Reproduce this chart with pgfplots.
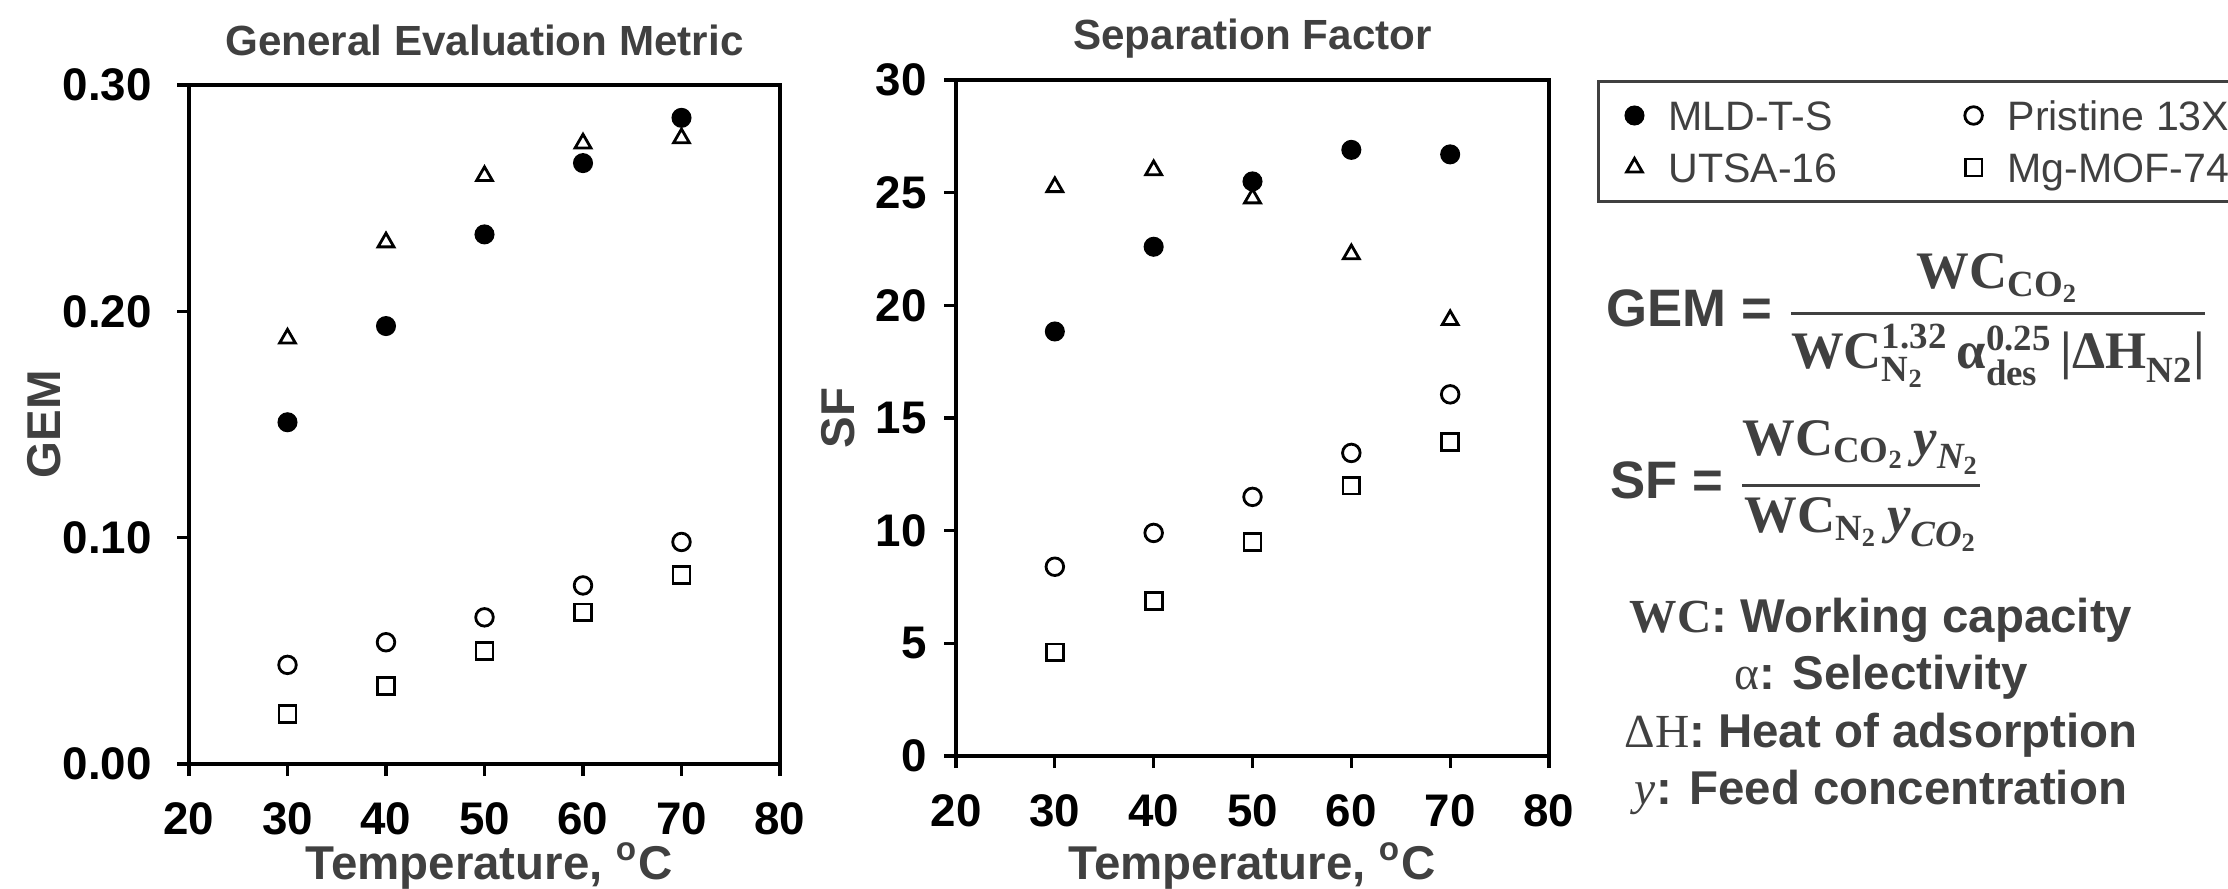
\documentclass[border=0pt]{standalone}
\usepackage{amsmath}
\usepackage[no-math]{fontspec}
\setmainfont{Liberation Sans}
\newfontfamily\cam{Liberation Serif}
\usepackage{pgfplots}
\pgfplotsset{compat=1.18}
\definecolor{txt}{HTML}{404040}
\newcommand{\mb}[1]{\text{\cam\bfseries #1}}
\newcommand{\mbi}[1]{\text{\cam\bfseries\itshape #1}}

\pgfplotsset{
  panel/.style={
    scale only axis, anchor=south west, clip=false,
    xmin=20, xmax=80, xtick={20,30,...,80},
    tick align=outside, tick pos=left, major tick length=0.12cm,
    axis line style={line width=0.9pt, black},
    tick style={line width=0.9pt, black},
    ticklabel style={font=\fontsize{13}{15}\selectfont\bfseries, text=black},
    /pgf/number format/assume math mode=true,
    xticklabel style={yshift=-0.145cm},
  },
  mk/.style={only marks, color=black,
    legend image code/.code={\path[draw=none] (0cm,-0.15cm) rectangle (0.70cm,0.15cm);
      \draw[##1] plot coordinates {(0.36cm,0cm)};}},
  mld/.style={mk, mark=*, mark size=2.6pt, mark options={fill=black, line width=0.5pt}},
  utsa/.style={mk, mark=triangle, mark size=2.6pt, mark options={fill=white, line width=0.8pt}},
  pris/.style={mk, mark=o, mark size=2.5pt, mark options={line width=0.8pt}},
  mof/.style={mk, mark=square, mark size=2.4pt, mark options={line width=0.8pt}},
}

\begin{document}
\begin{tikzpicture}
\path[use as bounding box, clip] (0,0) rectangle (22.28,8.88);

% GEM panel
\begin{axis}[panel, at={(1.89cm,1.24cm)}, width=5.91cm, height=6.79cm,
  ymin=0, ymax=0.3, ytick={0,0.1,0.2,0.3},
  yticklabel style={xshift=-0.13cm, /pgf/number format/fixed,
    /pgf/number format/fixed zerofill, /pgf/number format/precision=2}]
\addplot[mld]  coordinates {(30,0.151)(40,0.1935)(50,0.234)(60,0.2655)(70,0.2855)};
\addplot[utsa] coordinates {(30,0.188)(40,0.2305)(50,0.2598)(60,0.2742)(70,0.2765)};
\addplot[pris] coordinates {(30,0.0438)(40,0.0538)(50,0.0648)(60,0.0789)(70,0.0981)};
\addplot[mof]  coordinates {(30,0.0222)(40,0.0344)(50,0.0500)(60,0.0670)(70,0.0834)};
\end{axis}

% SF panel
\begin{axis}[panel, at={(9.56cm,1.32cm)}, width=5.93cm, height=6.76cm,
  ymin=0, ymax=30, ytick={0,5,...,30},
  yticklabel style={xshift=-0.05cm},
  legend columns=2,
  legend style={at={(axis description cs:1,1)}, anchor=north west, xshift=0.48cm,
    draw=txt, line width=0.85pt, inner xsep=0pt, inner ysep=0.19cm,
    font=\fontsize{11.7}{14}\selectfont, text=txt,
    nodes={inner sep=0pt, text height=0.30cm, text depth=0cm},
    cells={anchor=west}, /tikz/row sep=0.22cm,
    /tikz/every even column/.append style={column sep=1.0cm}}]
\addplot[mld]  coordinates {(30,18.84)(40,22.6)(50,25.5)(60,26.9)(70,26.7)};
\addlegendentry{MLD-T-S}
\addplot[pris] coordinates {(30,8.4)(40,9.9)(50,11.5)(60,13.45)(70,16.05)};
\addlegendentry{Pristine 13X}
\addplot[utsa] coordinates {(30,25.25)(40,26.0)(50,24.75)(60,22.27)(70,19.35)};
\addlegendentry{UTSA-16}
\addplot[mof]  coordinates {(30,4.6)(40,6.88)(50,9.5)(60,12.0)(70,13.95)};
\addlegendentry{Mg-MOF-74}
\end{axis}

% titles and axis labels
\begin{scope}[every node/.style={text=txt, inner sep=0pt}]
\node[anchor=base, font=\fontsize{12}{14}\selectfont\bfseries] at (4.845,8.33) {General Evaluation Metric};
\node[anchor=base, font=\fontsize{12}{14}\selectfont\bfseries] at (12.525,8.39) {Separation Factor};
\node[anchor=base, font=\fontsize{13.5}{16}\selectfont\bfseries] at (4.89,0.09) {Temperature, \textsuperscript{o}C};
\node[anchor=base, font=\fontsize{13.5}{16}\selectfont\bfseries] at (12.52,0.09) {Temperature, \textsuperscript{o}C};
\node[rotate=90, font=\fontsize{13.5}{16}\selectfont\bfseries] at (0.44,4.635) {GEM};
\node[rotate=90, font=\fontsize{13.5}{16}\selectfont\bfseries] at (8.38,4.70) {SF};

% equations
\node[anchor=base west, font=\fontsize{15}{18}\selectfont] at (16.06,5.62)
  {\textbf{GEM =} $\displaystyle\genfrac{}{}{0.9pt}{0}{\mb{WC}_{\mb{CO}_{\mb{2}}}}{\mb{WC}^{\mb{1.32}}_{\mb{N}_{\mb{2}}}\,\mb{α}^{\mb{0.25}}_{\mb{des}}\,\mb{|ΔH}_{\mb{N2}}\mb{|}}$};
\node[anchor=base west, font=\fontsize{15}{18}\selectfont] at (16.10,3.90)
  {\textbf{SF =} $\displaystyle\genfrac{}{}{0.9pt}{0}{\mb{WC}_{\mb{CO}_{\mb{2}}}\,\mbi{y}_{\mbi{N}_{\mb{2}}}}{\mb{WC}_{\mb{N}_{\mb{2}}}\,\mbi{y}_{\mbi{CO}_{\mb{2}}}}$};

% definitions
\node[anchor=base, font=\fontsize{13.5}{16}\selectfont\bfseries] at (18.81,2.56) {{\cam WC}: Working capacity};
\node[anchor=base, font=\fontsize{13.5}{16}\selectfont\bfseries] at (18.81,1.99) {{\cam\mdseries α}: Selectivity};
\node[anchor=base, font=\fontsize{13.5}{16}\selectfont\bfseries] at (18.81,1.41) {{\cam\mdseries ΔH}: Heat of adsorption};
\node[anchor=base, font=\fontsize{13.5}{16}\selectfont\bfseries] at (18.81,0.84) {{\cam\mdseries\itshape y}: Feed concentration};
\end{scope}
\end{tikzpicture}
\end{document}
